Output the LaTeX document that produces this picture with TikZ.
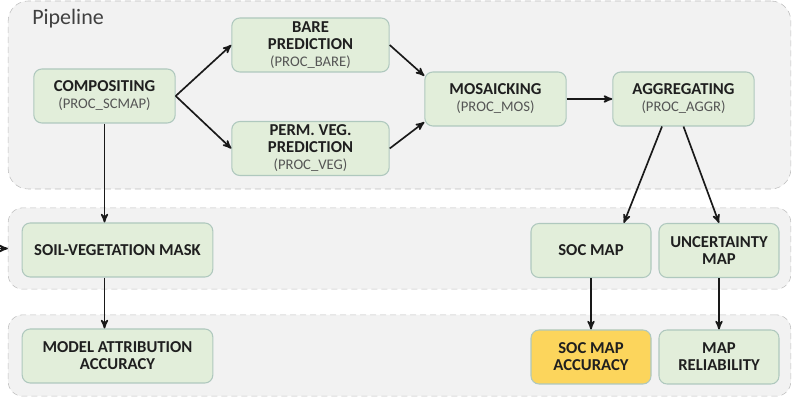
\documentclass[tikz,border=0pt]{standalone}
\usepackage{fontspec}
\setmainfont{Carlito}
\usetikzlibrary{arrows,positioning}

\definecolor{panelfill}{HTML}{F2F2F2}
\definecolor{paneldraw}{HTML}{BDBDBD}
\definecolor{boxfill}{HTML}{E2EEDA}
\definecolor{boxdraw}{HTML}{AFC8BE}
\definecolor{goldfill}{HTML}{FCD55C}
\definecolor{txtdark}{HTML}{1F1F1F}
\definecolor{txtgray}{HTML}{555555}

\newcommand{\proc}[1]{{\fontsize{11}{12.75}\selectfont\mdseries\color{txtgray}(#1)}}

\begin{document}
\begin{tikzpicture}[x=0.75pt,y=-0.75pt]
\tikzset{
    %Define standard arrow tip
    >=stealth',
    %Define style for the dashed panels
    panel/.style={
           rectangle,
           rounded corners=11pt,
           draw=paneldraw, dashed, dash pattern=on 4.5pt off 3pt,
           fill=panelfill,
           inner sep=0pt,
           minimum width=587pt,
           },
    %Define style for boxes
    punkt/.style={
           rectangle,
           rounded corners=6pt,
           draw=boxdraw, thick,
           fill=boxfill,
           align=center,
           font=\fontsize{12.5}{12.75}\selectfont\bfseries,
           text=txtdark,
           minimum width=106pt,
           minimum height=40.5pt,
           inner sep=1pt,
           },
    % Define arrow style
    pil/.style={
           ->,
           line width=1.25pt,
           draw=black!90,
           },
}
\useasboundingbox (0,0) rectangle (794,399);

 %panels
	\node[panel,minimum height=141pt,rounded corners=15pt] (pipe) at (399.5,95) {};
	\node[panel,minimum height=61pt] (maskpanel) at (399.5,248.5) {};
	\node[panel,minimum height=61pt] (accpanel) at (399.5,355.5) {};
	\node[anchor=base west,font=\fontsize{16.5}{18}\selectfont,text=black!75,inner sep=0pt] (pipetitle) at (32,25) {Pipeline};

 %nodes
	\node[punkt] (comp) at (104.5,96) {COMPOSITING\\\proc{PROC\_SCMAP}};
	\node[punkt,minimum width=118pt] (bare) at (310.5,45) {BARE\\PREDICTION\\\proc{PROC\_BARE}};
	\node[punkt,minimum width=118pt] (veg) at (310.5,148.5) {PERM. VEG.\\PREDICTION\\\proc{PROC\_VEG}};
	\node[punkt] (mos) at (495.5,99) {MOSAICKING\\\proc{PROC\_MOS}};
	\node[punkt] (aggr) at (683.5,99) {AGGREGATING\\\proc{PROC\_AGGR}};

	\node[punkt,minimum width=143pt] (mask) at (117.5,250) {SOIL-VEGETATION MASK};
	\node[punkt,minimum width=90pt] (soc) at (591,250.5) {SOC MAP};
	\node[punkt,minimum width=90pt] (unc) at (719,250.5) {UNCERTAINTY\\MAP};

	\node[punkt,minimum width=143pt] (attr) at (117.5,356) {MODEL ATTRIBUTION\\ACCURACY};
	\node[punkt,minimum width=90pt,fill=goldfill] (socacc) at (591,357) {SOC MAP\\ACCURACY};
	\node[punkt,minimum width=90pt] (rel) at (719,357) {MAP\\RELIABILITY};

	\coordinate (entry) at (0,248.5);

 %arrows
	\draw[pil] (comp.east) -- (bare.west);
	\draw[pil] (comp.east) -- (veg.west);
	\draw[pil] (bare.east) -- (mos.162);
	\draw[pil] (veg.east) -- (mos.198);
	\draw[pil] (mos.east) -- (aggr.west);
	\draw[pil] (comp.south) -- (comp.south |- mask.north);
	\draw[pil] (aggr.232) -- (soc.40);
	\draw[pil] (aggr.south) -- (unc.north);
	\draw[pil] (mask.south -| comp.south) -- (comp.south |- attr.north);
	\draw[pil] (soc.south) -- (socacc.north);
	\draw[pil] (unc.south) -- (rel.north);
	\draw[pil] (entry) -- (maskpanel.west);

\end{tikzpicture}
\end{document}
